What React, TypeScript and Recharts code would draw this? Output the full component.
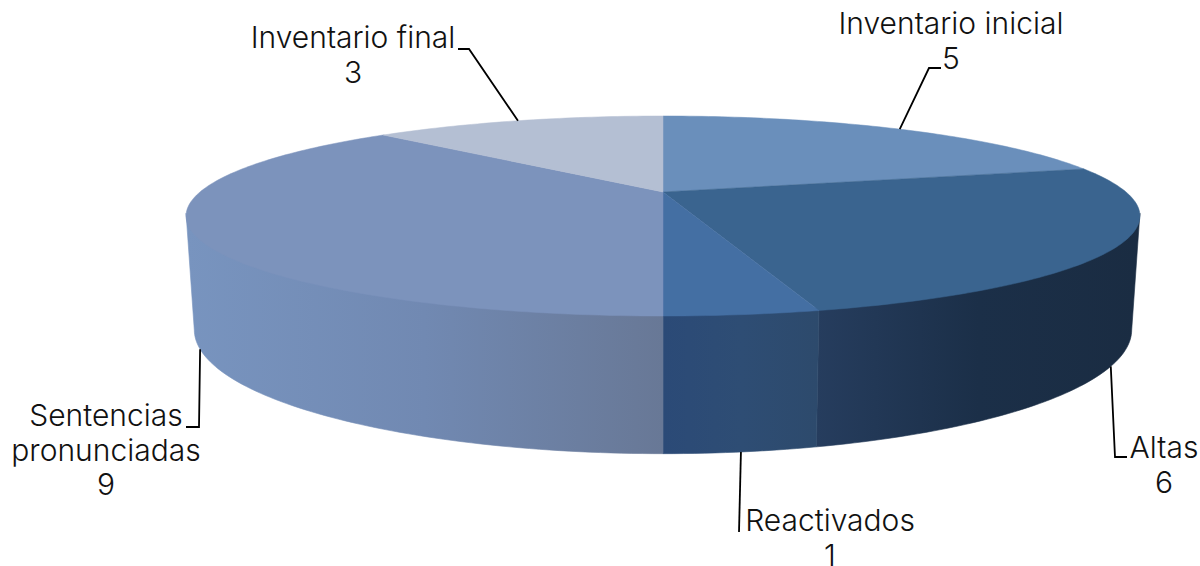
import { Pie, PieChart } from "recharts"

const categories = ["Inventario inicial", "Altas", "Reactivados", "Sentencias pronunciadas", "Inventario final"]
const values = [5, 6, 1, 9, 3]

const topColors = ["#6a8fbb", "#3a648f", "#446fa3", "#7c93bc", "#b4bfd3"]
// left, middle and right colour of the visible wall
const wallColors = [
  ["#6a8fbb", "#6a8fbb", "#6a8fbb"],
  ["#263d5e", "#1b2f48", "#1a2c42"],
  ["#2b4a77", "#2e4d74", "#2d4a6c"],
  ["#7894bf", "#7189b2", "#687896"],
  ["#b4bfd3", "#b4bfd3", "#b4bfd3"],
]

const data = categories.map((name, i) => ({ name, value: values[i], fill: topColors[i], wall: wallColors[i] }))

// perspective of the disc, picked by eye
const PERSP = 0.24
const TOP_TILT = 94.24 / 463
const BOTTOM = { cyOffset: 108, scale: 455 / 463, tilt: 116.8 / 455 }
const WALL_FROM = 104
const WALL_TO = 256

const project = (cx: number, cy: number, r: number, tilt: number, deg: number) => {
  const t = (deg * Math.PI) / 180
  const u = Math.sin(t)
  const v = -Math.cos(t)
  const d = 1 - PERSP * v
  return [cx + (r * u) / d, cy + (r * tilt * v) / d]
}

const arc = (cx: number, cy: number, r: number, tilt: number, from: number, to: number) => {
  const pts: number[][] = []
  const n = Math.max(2, Math.ceil(Math.abs(to - from)))
  for (let i = 0; i <= n; i++) pts.push(project(cx, cy, r, tilt, from + ((to - from) * i) / n))
  return pts
}

const toPath = (pts: number[][]) =>
  "M" + pts.map((p) => `${p[0].toFixed(2)},${p[1].toFixed(2)}`).join("L") + "Z"

const TopFace = (props: any) => {
  const { cx, cy, outerRadius, startAngle, endAngle, fill } = props
  const pts = arc(cx, cy, outerRadius, TOP_TILT, 90 - startAngle, 90 - endAngle)
  return <path d={toPath([[cx, cy], ...pts])} fill={fill} stroke={fill} strokeWidth={0.5} />
}

const WallFace = (props: any) => {
  const { cx, cy, outerRadius, startAngle, endAngle, payload, index } = props
  const from = Math.max(90 - startAngle, WALL_FROM)
  const to = Math.min(90 - endAngle, WALL_TO)
  if (to <= from) return null
  // top edge runs a little under the top face so no seam shows
  const topPts = arc(cx, cy - 3, outerRadius, TOP_TILT, from, to)
  const botPts = arc(cx, cy + BOTTOM.cyOffset, outerRadius * BOTTOM.scale, BOTTOM.tilt, from, to)
  const all = [...topPts, ...botPts.reverse()]
  const xs = all.map((p) => p[0])
  const id = `wall-${index}`
  const wall = payload.wall ?? props.wall
  return (
    <g>
      <defs>
        <linearGradient id={id} gradientUnits="userSpaceOnUse" x1={Math.min(...xs)} x2={Math.max(...xs)} y1={0} y2={0}>
          <stop offset="0%" stopColor={wall[0]} />
          <stop offset="50%" stopColor={wall[1]} />
          <stop offset="100%" stopColor={wall[2]} />
        </linearGradient>
      </defs>
      <path d={toPath(all)} fill={`url(#${id})`} stroke={`url(#${id})`} strokeWidth={0.6} />
    </g>
  )
}

// label placement: elbow, line end, text centre and first baseline
const labelLayout = [
  { elbow: [929, 68], end: [941, 68], textX: 951, textY: 34, back: true, lines: ["Inventario inicial"] },
  { elbow: [1115, 457], end: [1127, 457], textX: 1164, textY: 458, back: false, lines: ["Altas"] },
  { elbow: [739, 532], end: [739, 532], textX: 830, textY: 531, back: false, lines: ["Reactivados"] },
  { elbow: [199, 427], end: [186, 427], textX: 106, textY: 426, back: false, lines: ["Sentencias", "pronunciadas"] },
  { elbow: [469, 49], end: [458, 49], textX: 353, textY: 48, back: true, lines: ["Inventario final"] },
]

const FONT = "Inter, 'Noto Sans', sans-serif"

const renderLabel = (props: any) => {
  const { cx, cy, outerRadius, midAngle, index, value } = props
  const l = labelLayout[index]
  const deg = 90 - midAngle
  const anchor = l.back
    ? project(cx, cy, outerRadius, TOP_TILT, deg)
    : project(cx, cy + BOTTOM.cyOffset, outerRadius * BOTTOM.scale, BOTTOM.tilt, deg)
  const rows = [...l.lines, String(value)]
  return (
    <g key={index}>
      <polyline
        points={`${anchor[0]},${anchor[1]} ${l.elbow[0]},${l.elbow[1]} ${l.end[0]},${l.end[1]}`}
        fill="none"
        stroke="#000"
        strokeWidth={1.8}
      />
      <text textAnchor="middle" fontFamily={FONT} fontSize={30} fontWeight={300} fill="#111">
        {rows.map((row, i) => (
          <tspan key={i} x={l.textX} y={l.textY + i * 34.5}>
            {row}
          </tspan>
        ))}
      </text>
    </g>
  )
}

export default function App() {
  return (
    <div style={{ position: "absolute", left: 0, top: 0, width: 1200, height: 566, background: "#fff", overflow: "hidden" }}>
      <PieChart width={1200} height={566} margin={{ top: 0, right: 0, bottom: 0, left: 0 }}>
        <Pie
          data={data}
          dataKey="value"
          nameKey="name"
          cx={663}
          cy={192}
          outerRadius={463}
          startAngle={90}
          endAngle={-270}
          stroke="none"
          shape={WallFace}
          isAnimationActive={false}
        />
        <Pie
          data={data}
          dataKey="value"
          nameKey="name"
          cx={663}
          cy={192}
          outerRadius={463}
          startAngle={90}
          endAngle={-270}
          stroke="none"
          shape={TopFace}
          label={renderLabel}
          labelLine={false}
          isAnimationActive={false}
        />
      </PieChart>
    </div>
  )
}
